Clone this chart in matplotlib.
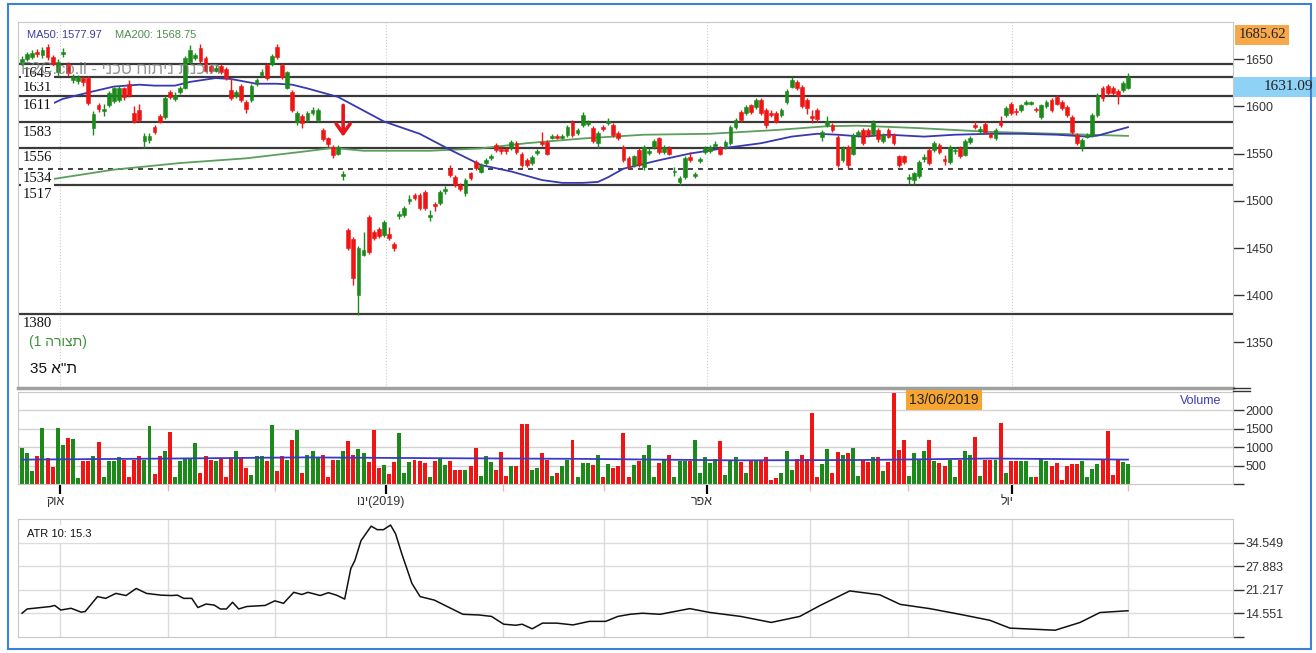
import numpy as np
import matplotlib.pyplot as plt
from matplotlib.patches import Rectangle
from matplotlib.lines import Line2D
import matplotlib.transforms as mtrans

# daily candles (index 0 = first session shown)
opens = [1645, 1650, 1652, 1658, 1654, 1663, 1652, 1636, 1655, 1645,
         1628, 1627, 1630, 1630, 1577, 1601, 1595, 1602, 1606, 1607,
         1619, 1624, 1593, 1596, 1563, 1564, 1578, 1590, 1589, 1615,
         1608, 1615, 1620, 1647, 1651, 1662, 1651, 1643, 1638, 1643,
         1640, 1617, 1611, 1622, 1605, 1607, 1624, 1633, 1644, 1645,
         1663, 1644, 1620, 1615, 1583, 1590, 1586, 1593, 1586, 1575,
         1566, 1557, 1550, 1526, 1469, 1460, 1400, 1443, 1483, 1467,
         1470, 1464, 1465, 1454, 1484, 1485, 1500, 1506, 1506, 1509,
         1483, 1497, 1498, 1510, 1534, 1525, 1517, 1508, 1529, 1541,
         1531, 1540, 1545, 1559, 1555, 1555, 1556, 1561, 1550, 1543,
         1540, 1551, 1562, 1562, 1567, 1569, 1567, 1570, 1584, 1572,
         1580, 1581, 1577, 1561, 1578, 1582, 1580, 1572, 1557, 1545,
         1538, 1554, 1536, 1551, 1557, 1566, 1552, 1556, 1530, 1520,
         1525, 1546, 1526, 1542, 1552, 1553, 1558, 1556, 1557, 1561,
         1578, 1594, 1593, 1601, 1599, 1607, 1596, 1593, 1593, 1591,
         1605, 1621, 1626, 1621, 1607, 1590, 1596, 1568, 1580, 1580,
         1568, 1543, 1557, 1550, 1570, 1575, 1575, 1571, 1575, 1563,
         1575, 1570, 1547, 1547, 1523, 1522, 1526, 1544, 1554, 1554,
         1559, 1544, 1541, 1553, 1556, 1549, 1562, 1580, 1574, 1581,
         1571, 1566, 1584, 1591, 1603, 1595, 1596, 1603, 1603, 1597,
         1589, 1600, 1607, 1610, 1605, 1599, 1589, 1570, 1557, 1568,
         1570, 1591, 1620, 1622, 1620, 1616, 1617, 1620]
closes = [1650, 1655, 1657, 1655, 1660, 1652, 1645, 1647, 1658, 1635,
          1631, 1631, 1626, 1604, 1592, 1597, 1597, 1614, 1619, 1620,
          1610, 1612, 1584, 1586, 1569, 1569, 1573, 1584, 1609, 1610,
          1612, 1620, 1651, 1660, 1654, 1648, 1638, 1637, 1641, 1636,
          1630, 1609, 1615, 1607, 1597, 1622, 1628, 1636, 1630, 1653,
          1652, 1631, 1636, 1596, 1593, 1582, 1593, 1596, 1596, 1565,
          1560, 1549, 1557, 1528, 1450, 1418, 1450, 1448, 1446, 1461,
          1463, 1478, 1461, 1450, 1486, 1492, 1502, 1503, 1492, 1492,
          1485, 1494, 1509, 1512, 1527, 1517, 1512, 1522, 1524, 1535,
          1538, 1543, 1547, 1554, 1553, 1553, 1562, 1552, 1538, 1538,
          1546, 1553, 1560, 1550, 1569, 1567, 1569, 1578, 1570, 1575,
          1591, 1583, 1563, 1572, 1576, 1585, 1570, 1566, 1543, 1536,
          1547, 1538, 1557, 1553, 1563, 1552, 1557, 1550, 1532, 1524,
          1545, 1543, 1528, 1544, 1556, 1557, 1560, 1550, 1562, 1578,
          1586, 1586, 1599, 1594, 1607, 1593, 1580, 1591, 1584, 1596,
          1616, 1628, 1619, 1600, 1598, 1588, 1587, 1573, 1585, 1575,
          1538, 1556, 1538, 1570, 1573, 1561, 1570, 1584, 1565, 1570,
          1568, 1561, 1538, 1541, 1525, 1529, 1541, 1546, 1540, 1561,
          1552, 1542, 1557, 1554, 1547, 1563, 1567, 1578, 1576, 1573,
          1568, 1575, 1580, 1598, 1593, 1594, 1601, 1605, 1604, 1596,
          1601, 1605, 1596, 1603, 1598, 1591, 1573, 1561, 1564, 1570,
          1591, 1612, 1609, 1614, 1614, 1611, 1625, 1631.09]
highs = [1653, 1658, 1660, 1661, 1663, 1666, 1654, 1650, 1662, 1647,
         1634, 1633, 1632, 1632, 1595, 1604, 1603, 1616, 1621, 1622,
         1621, 1628, 1600, 1603, 1572, 1572, 1580, 1592, 1611, 1617,
         1615, 1622, 1653, 1665, 1657, 1666, 1653, 1645, 1644, 1645,
         1642, 1630, 1617, 1624, 1607, 1624, 1630, 1640, 1646, 1655,
         1666, 1646, 1638, 1617, 1595, 1592, 1595, 1599, 1598, 1577,
         1568, 1559, 1559, 1532, 1471, 1462, 1452, 1467, 1485, 1469,
         1472, 1480, 1472, 1456, 1489, 1494, 1506, 1508, 1508, 1511,
         1490, 1499, 1511, 1516, 1538, 1527, 1519, 1524, 1531, 1543,
         1540, 1545, 1550, 1561, 1558, 1557, 1564, 1563, 1552, 1545,
         1548, 1555, 1573, 1564, 1571, 1571, 1571, 1580, 1586, 1577,
         1594, 1586, 1579, 1574, 1580, 1588, 1582, 1574, 1559, 1547,
         1549, 1556, 1559, 1556, 1565, 1568, 1559, 1558, 1536, 1526,
         1547, 1552, 1531, 1546, 1558, 1559, 1563, 1558, 1564, 1580,
         1588, 1596, 1601, 1603, 1609, 1609, 1598, 1596, 1595, 1598,
         1618, 1631, 1628, 1623, 1609, 1596, 1598, 1575, 1590, 1582,
         1570, 1558, 1559, 1572, 1575, 1577, 1577, 1586, 1577, 1572,
         1577, 1572, 1549, 1549, 1528, 1531, 1543, 1550, 1556, 1563,
         1561, 1548, 1559, 1557, 1558, 1565, 1569, 1585, 1579, 1585,
         1573, 1577, 1590, 1600, 1605, 1598, 1603, 1607, 1606, 1599,
         1603, 1607, 1609, 1612, 1607, 1601, 1591, 1572, 1566, 1572,
         1593, 1614, 1622, 1624, 1622, 1618, 1627, 1635]
lows = [1642, 1648, 1650, 1652, 1651, 1649, 1642, 1632, 1652, 1632,
        1625, 1624, 1622, 1601, 1570, 1594, 1590, 1599, 1604, 1605,
        1607, 1610, 1582, 1584, 1556, 1561, 1571, 1582, 1587, 1608,
        1606, 1613, 1618, 1645, 1649, 1646, 1636, 1635, 1636, 1634,
        1628, 1607, 1609, 1605, 1593, 1605, 1622, 1631, 1628, 1643,
        1650, 1629, 1618, 1594, 1580, 1577, 1584, 1591, 1584, 1563,
        1557, 1545, 1548, 1522, 1448, 1411, 1379, 1441, 1444, 1459,
        1461, 1462, 1459, 1447, 1481, 1483, 1497, 1501, 1490, 1490,
        1479, 1489, 1496, 1507, 1525, 1515, 1510, 1505, 1522, 1533,
        1529, 1538, 1543, 1552, 1550, 1550, 1554, 1550, 1536, 1536,
        1538, 1549, 1558, 1548, 1565, 1565, 1565, 1568, 1568, 1570,
        1578, 1579, 1561, 1556, 1574, 1580, 1568, 1564, 1541, 1534,
        1536, 1536, 1533, 1549, 1555, 1550, 1550, 1548, 1526, 1517,
        1523, 1541, 1524, 1540, 1550, 1551, 1556, 1548, 1555, 1559,
        1576, 1584, 1591, 1592, 1597, 1591, 1577, 1589, 1582, 1589,
        1603, 1619, 1617, 1598, 1592, 1582, 1584, 1563, 1578, 1573,
        1536, 1541, 1535, 1548, 1568, 1559, 1568, 1569, 1562, 1561,
        1566, 1559, 1536, 1539, 1518, 1518, 1524, 1541, 1538, 1552,
        1550, 1538, 1539, 1550, 1545, 1547, 1560, 1576, 1571, 1571,
        1566, 1564, 1578, 1589, 1591, 1591, 1594, 1601, 1601, 1594,
        1587, 1598, 1594, 1601, 1596, 1589, 1571, 1559, 1553, 1566,
        1568, 1589, 1606, 1612, 1612, 1603, 1615, 1618]
volumes = [975, 840, 340, 750, 1520, 700, 470, 1520, 1065, 1250,
           1230, 155, 610, 610, 750, 1140, 200, 610, 610, 720,
           655, 200, 655, 750, 655, 1565, 265, 750, 880, 1410,
           200, 610, 700, 700, 1110, 290, 750, 655, 610, 700,
           200, 700, 880, 700, 430, 245, 750, 750, 610, 1590,
           340, 750, 655, 1200, 1475, 290,
           790, 880, 700, 790, 200, 655, 655, 900, 1155, 790,
           945, 840, 590, 1475, 430, 520, 265, 590, 1385, 290,
           590, 655, 610, 565, 200, 610, 680, 520, 610, 380,
           380, 380, 500, 975, 230, 765, 590, 380, 865, 230,
           475, 475, 1630, 1630, 380, 430, 840, 655, 230,
           290, 475, 655, 1200, 200, 565,
           565, 520, 790, 200, 535, 445, 500, 1385, 200, 520,
           610, 790, 1065, 200, 565, 680, 790, 200, 630, 630,
           630, 1200, 290, 720, 565, 680, 1175, 245, 610, 720,
           590, 290, 630, 655, 630, 720, 110, 155, 290, 900,
           380, 680, 790, 680, 1930, 200, 535, 955, 290, 865,
           775, 840, 975, 230, 655,
           590, 720, 720, 340, 590, 2450, 930, 1200, 230, 840,
           680, 880, 1200, 610, 565, 500, 655, 200, 655, 900,
           775, 1265, 230, 655, 655, 655, 1655, 290, 610, 630,
           610, 630, 200, 200, 680, 610, 500, 565, 110, 475,
           535, 535, 630, 180, 410, 535, 655, 1445, 245, 680,
           590, 535]

# moving averages (index, value)
ma50_x = [6, 8, 14, 18, 23, 26, 30, 33, 38, 41, 46, 50, 53, 56, 62, 71, 78, 84,
          90, 96, 102, 106, 110, 113, 115, 118, 125, 131, 138, 145, 151, 156,
          160, 165, 170, 177, 183, 190, 196, 203, 209, 211, 217]
ma50_y = [1603, 1608, 1616, 1621, 1623, 1622, 1622, 1626, 1630, 1629, 1624,
          1624, 1623, 1619, 1610, 1584, 1571, 1554, 1538, 1531, 1522, 1519,
          1519, 1520, 1525, 1534, 1543, 1550, 1556, 1561, 1568, 1571, 1570,
          1568, 1570, 1568, 1570, 1571, 1571, 1570, 1568, 1569, 1577.97]
ma200_x = [6, 18, 31, 44, 55, 61, 67, 80, 90, 99, 110, 122, 135, 148, 158,
           164, 176, 190, 203, 217]
ma200_y = [1523, 1533, 1540, 1545, 1552, 1556, 1553, 1553, 1555.5, 1561,
           1566, 1570, 1571, 1575, 1579, 1579.6, 1577, 1573, 1571, 1568.75]
vma_x = [0, 30, 55, 80, 110, 140, 165, 190, 217]
vma_y = [660, 690, 720, 700, 680, 640, 650, 690, 660]

atr_x = [0, 1, 5.6, 6.4, 7.6, 9.6, 11.6, 12.4, 14.8, 16.4, 18.4, 20.4, 22.4,
         24.4, 27.3, 29.3, 30.5, 31.7, 33.3, 34.5, 36.1, 37.7, 38.9, 40.1,
         41.3, 42.5, 44.1, 47.7, 49.6, 51.3, 53.3, 54.9, 56.1, 58.5, 60.1,
         61.7, 63.3, 64.5, 65.3, 66.5, 68.5, 69.7, 70.9, 72.3, 73.3, 74.5,
         76.5, 78.1, 80.9, 84.1, 86.5, 89.7, 92.1, 94.5, 96.9, 98.1, 100.1,
         102.1, 104.9, 108.1, 111.3, 114.5, 116.9, 119.3, 121.7, 125.2, 131,
         135, 141, 147, 152.6, 156.6, 162.4, 168.3, 172.3, 178.1, 184, 189.9,
         193.8, 202.7, 207.6, 211.5, 217]
atr_y = [14.6, 15.8, 16.5, 16.8, 15.5, 16.0, 14.9, 15.1, 19.3, 18.8, 20.2,
         19.6, 21.6, 20.2, 19.7, 19.6, 19.7, 18.8, 18.8, 16.2, 17.2, 16.9,
         15.8, 15.8, 17.7, 15.8, 16.5, 16.8, 18.1, 17.4, 20.5, 19.9, 20.5,
         19.6, 20.4, 19.7, 18.6, 27.2, 29.5, 35.1, 39.2, 38.2, 38.2, 39.5,
         37.0, 31.4, 23.0, 19.3, 18.3, 16.0, 14.3, 14.1, 13.7, 11.5, 11.2,
         11.5, 10.2, 11.8, 11.8, 11.3, 12.3, 12.3, 13.7, 14.3, 14.6, 14.3,
         15.9, 14.8, 13.7, 12.0, 13.7, 16.8, 20.9, 19.8, 17.1, 15.9, 14.3,
         12.6, 10.4, 9.8, 12.0, 14.8, 15.3]

levels = [1645, 1631, 1611, 1583, 1556, 1517, 1380]
dashed_level = 1534
level_labels = ['1631', '1645', '1611', '1583', '1556', '1534', '1517', '1380']
label_levels = [1631, 1645, 1611, 1583, 1556, 1534, 1517, 1380]

month_major = [7.5, 71.4, 134.4, 194.2]
month_names = ['קוא', 'וני(2019)', 'רפא', 'לוי']
month_minor = [28.6, 49.6, 94.4, 114.2, 154.6, 173.8, 217]

price_ticks = [1350, 1400, 1450, 1500, 1550, 1600, 1650]
vol_ticks = [0, 500, 1000, 1500, 2000]
atr_ticks = [7.885, 14.551, 21.217, 27.883, 34.549]

UP = '#1b8a1b'
DN = '#f01515'
FW, FH = 1316, 653

plt.rcParams['font.family'] = ['Liberation Sans', 'DejaVu Sans']

x = np.arange(len(closes))
o = np.array(opens, float)
c = np.array(closes, float)
cols = [UP if cc >= oo else DN for oo, cc in zip(o, c)]

fig = plt.figure(figsize=(FW / 100, FH / 100), dpi=100)
L, W = 18 / FW, 1215 / FW
ax = fig.add_axes([L, 1 - 388 / FH, W, 366 / FH])
axv = fig.add_axes([L, 1 - 484 / FH, W, 92 / FH])
axa = fig.add_axes([L, 1 - 637 / FH, W, 118 / FH])

xlim = (-0.8, 237.6)
for a in (ax, axv, axa):
    a.set_xlim(*xlim)
    for s in a.spines.values():
        s.set_color('#c8c8c8')
    a.yaxis.tick_right()
    a.tick_params(axis='y', length=8, width=1, colors='#333333', labelsize=9, pad=1)
    a.tick_params(axis='x', bottom=False, labelbottom=False)

# ---- price panel
ax.set_ylim(1301.7, 1689.4)
ax.set_yticks(price_ticks)
for m in month_major:
    ax.axvline(m, color='#cccccc', lw=0.8, ls=':', zorder=0)
for lv in levels:
    ax.axhline(lv, color='#3a3a3a', lw=1.6, zorder=1)
ax.axhline(dashed_level, color='#222222', lw=1.2, ls=(0, (3, 3)), zorder=1)

ax.plot(ma200_x, ma200_y, color='#5c9e5c', lw=1.3, zorder=2)
ax.plot(ma50_x, ma50_y, color='#3838b0', lw=1.3, zorder=2)

ax.vlines(x, lows, highs, colors=cols, lw=1, zorder=3)
bottoms = np.minimum(o, c)
heights = np.maximum(np.abs(c - o), 1.2)
ax.bar(x, heights, bottom=bottoms, width=0.74, color=cols, edgecolor=cols,
       linewidth=0.4, zorder=4)

for txt, lv in zip(level_labels, label_levels):
    ax.text(0.2, lv - 10.5, txt, ha='left', va='center', fontsize=10.5,
            family='Liberation Serif', color='#111111', zorder=5,
            bbox=dict(fc='white', ec='none', pad=1.2))

ax.text(-0.3, 1639.5, 'F2C.co.il - ינכט חותינ תנכות', color='#7d7d7d', fontsize=12,
        alpha=0.8, va='center', ha='left', zorder=6)
ax.text(1.3, 1350, '(1 הרוצת)', color='#3f8f3f', fontsize=10, va='center', zorder=5)
ax.text(1.6, 1321.5, '35 א"ת', color='#111111', fontsize=11, va='center', zorder=5)

ax.annotate('', xy=(63, 1565), xytext=(63, 1604),
            arrowprops=dict(arrowstyle='->,head_length=0.7,head_width=0.5',
                            color='#e8141b', lw=2.6), zorder=7)

fig.text(27 / FW, 1 - 35 / FH, 'MA50: 1577.97', color='#3c3ca8', fontsize=8, va='center')
fig.text(115 / FW, 1 - 35 / FH, 'MA200: 1568.75', color='#4f8f4f', fontsize=8, va='center')

ax.spines['bottom'].set_color('#a0a0a0')
ax.spines['bottom'].set_linewidth(2.5)

# ---- volume panel
axv.set_ylim(0, 2490)
axv.set_yticks(vol_ticks)
axv.set_yticklabels([''] + [str(t) for t in vol_ticks[1:]])
for t in vol_ticks[1:]:
    axv.axhline(t, color='#d2d2d2', lw=1, zorder=0)
axv.bar(x, volumes, width=0.78, color=cols, zorder=2)
axv.plot(vma_x, vma_y, color='#3a3ac8', lw=1.3, zorder=3)
axv.text(0.99, 0.9, 'Volume', transform=axv.transAxes, ha='right', va='center',
         color='#3c3cb4', fontsize=9)
fig.text(944 / FW, 1 - 400 / FH, '13/06/2019', ha='center', va='center', fontsize=10,
         color='#222222', bbox=dict(fc='#f5a530', ec='none', pad=2.5))
axv.set_xticks(month_major)
axv.set_xticks(month_minor, minor=True)
axv.tick_params(axis='x', which='major', bottom=True, direction='out', length=7,
                width=1.6, colors='black')
axv.tick_params(axis='x', which='minor', bottom=True, direction='out', length=5,
                width=1, colors='#f0b4b4')

tr = mtrans.blended_transform_factory(axv.transData, fig.transFigure)
for m, name in zip(month_major, month_names):
    fig.text(m - 1, 1 - 502 / FH, name, transform=tr, ha='center', va='center',
             fontsize=9, color='#333333')

# ---- ATR panel
axa.set_ylim(7.885, 41.215)
axa.set_yticks(atr_ticks)
axa.set_yticklabels([''] + ['%.3f' % t for t in atr_ticks[1:]])
for t in atr_ticks[1:]:
    axa.axhline(t, color='#dcdcdc', lw=1, zorder=0)
for m in month_major + month_minor:
    axa.axvline(m, color='#dcdcdc', lw=1, zorder=0)
axa.plot(atr_x, atr_y, color='#111111', lw=1.1, zorder=2)
axa.text(1, 37.0, 'ATR 10: 15.3', fontsize=8, va='center', color='#111111', zorder=4,
         bbox=dict(fc='white', ec='none', pad=3))

# ---- right-side value boxes and frame
fig.text(1262 / FW, 1 - 35 / FH, '1685.62', ha='center', va='center', fontsize=10.5,
         family='Liberation Serif', color='#222222',
         bbox=dict(fc='#f7a84a', ec='none', pad=2.5))
fig.add_artist(Rectangle((1234 / FW, 1 - 97 / FH), 82 / FW, 20 / FH,
                         transform=fig.transFigure, fc='#8ed2f5', ec='none'))
fig.text(1313 / FW, 1 - 87 / FH, '1631.09', ha='right', va='center', fontsize=11,
         family='Liberation Serif', color='#222222')
for yy in (388, 391):
    fig.add_artist(Line2D([1233 / FW, 1250 / FW], [1 - yy / FH, 1 - yy / FH],
                          transform=fig.transFigure, color='#333333', lw=1))
fig.add_artist(Rectangle((8 / FW, 4 / FH), 1303 / FW, 645 / FH,
                         transform=fig.transFigure, fill=False, ec='#3d80d8', lw=1.5))

fig.savefig('out.png', dpi=100)
